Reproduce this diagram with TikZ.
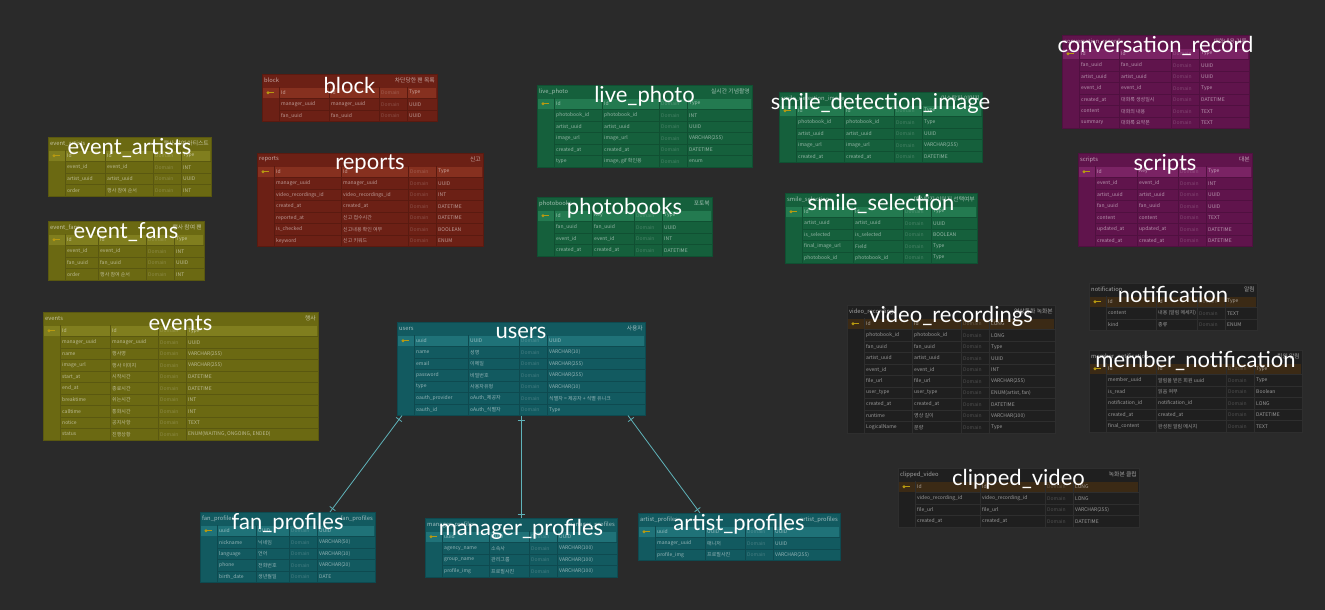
\documentclass[tikz,border=0pt]{standalone}
\usepackage{fontspec}
\setmainfont{Lato}
\newfontfamily\krfont{Noto Sans CJK KR}
\newfontfamily\titlefont{Lato}
\usetikzlibrary{arrows.meta, positioning, decorations.markings}

\definecolor{bgdark}{HTML}{2A2A2A}
\definecolor{keyyellow}{HTML}{B89A10}
\definecolor{linkteal}{HTML}{5FB3BA}
\definecolor{olivebody}{HTML}{6B6912}\definecolor{olivehead}{HTML}{807E1E}
\definecolor{olivebar}{HTML}{6B6912}\definecolor{oliveline}{HTML}{5A5810}
\definecolor{redbody}{HTML}{6C2015}\definecolor{redhead}{HTML}{86301F}
\definecolor{redbar}{HTML}{6C2015}\definecolor{redline}{HTML}{5A1A10}
\definecolor{greenbody}{HTML}{15603C}\definecolor{greenhead}{HTML}{237A50}
\definecolor{greenbar}{HTML}{15603C}\definecolor{greenline}{HTML}{105032}
\definecolor{purplebody}{HTML}{60144C}\definecolor{purplehead}{HTML}{7A2364}
\definecolor{purplebar}{HTML}{60144C}\definecolor{purpleline}{HTML}{501040}
\definecolor{tealbody}{HTML}{125A60}\definecolor{tealhead}{HTML}{1F7278}
\definecolor{tealbar}{HTML}{125A60}\definecolor{tealline}{HTML}{0E4A50}
\definecolor{darkbody}{HTML}{1F1F1F}\definecolor{darkhead}{HTML}{3B2A15}
\definecolor{darkbar}{HTML}{1F1F1F}\definecolor{darkline}{HTML}{2E2E2E}

\tikzset{
	cell/.style={anchor=west, inner sep=0pt, xshift=2pt, text=white, text opacity=0.55,
		font=\krfont\fontsize{5}{6}\selectfont},
	dimcell/.style={text opacity=0.22},
	tabcap/.style={inner sep=0pt, text=white, text opacity=0.6,
		font=\krfont\fontsize{5.8}{7}\selectfont},
	tabframe/.style={anchor=north west, inner sep=0pt, outer sep=0pt, line width=0.6pt},
	bigtitle/.style={inner sep=0pt, text=white, font=\titlefont\fontsize{22}{25}\selectfont},
	link/.style={draw=linkteal, line width=0.8pt, postaction={decorate},
		decoration={markings,
			mark=at position 5pt with {\draw[linkteal, line width=0.8pt] (0,-3.5pt) -- (0,3.5pt);},
			mark=at position -4pt with {\draw[linkteal, line width=0.8pt] (0,-3.5pt) -- (0,3.5pt);}}}
}

% #1 name, #2 top left, #3 colour scheme, #4 comment, #5-#7 column widths, #8 rows
\newcommand\erdtable[8]{%
	\begin{scope}[shift={#2}]
	\pgfmathsetmacro\erdB{17+#5}
	\pgfmathsetmacro\erdC{17+#5+#6}
	\pgfmathsetmacro\erdD{17+#5+#6+28}
	\pgfmathsetmacro\erdE{17+#5+#6+28+#7}
	\fill[#3bar] (0,0) rectangle (\erdE,13);
	\node[tabcap, anchor=west] (#1-cap) at (2,6.5) {#1};
	\node[tabcap, anchor=east] (#1-note) at (\erdE-2,6.5) {#4};
	\foreach \la/\ph/\ty [count=\i] in {#8} {
		\pgfmathsetmacro\ya{13+11.5*(\i-1)}
		\pgfmathsetmacro\yb{\ya+11.5}
		\pgfmathsetmacro\ym{\ya+5.75}
		\fill[#3body] (0,\ya) rectangle (\erdE,\yb);
		\ifnum\i=1
			\fill[#3head] (1,\ya+1) rectangle (\erdE-1,\yb-0.5);
			\fill[keyyellow] (6,\ym) circle (1.6);
			\draw[keyyellow, line width=0.8pt] (6,\ym) -- (12,\ym);
		\else
			\draw[#3line] (17,\ya) -- (\erdE,\ya);
		\fi
		\draw[#3line] (17,\ya) -- (17,\yb) (\erdB,\ya) -- (\erdB,\yb)
			(\erdC,\ya) -- (\erdC,\yb) (\erdD,\ya) -- (\erdD,\yb);
		\node[cell] (#1-r\i-l) at (17,\ym) {\la};
		\node[cell] (#1-r\i-p) at (\erdB,\ym) {\ph};
		\node[cell, dimcell] (#1-r\i-d) at (\erdC,\ym) {Domain};
		\node[cell] (#1-r\i-t) at (\erdD,\ym) {\ty};
		\xdef\erdrows{\i}
	}
	\pgfmathsetmacro\erdH{13+11.5*\erdrows}
	\node[tabframe, draw=#3line, minimum width=\erdE pt, minimum height=\erdH pt] (#1) at (0,0) {};
	\node[bigtitle] (#1-title) at (\erdE/2,11) {#1};
	\end{scope}}

\begin{document}
\catcode`\_=12
\begin{tikzpicture}[x=1pt, y=-1pt]

\fill[bgdark] (0,0) rectangle (1325,610);
\useasboundingbox (0,0) rectangle (1325,610);

\erdtable{event_artists}{(48,137)}{olive}{행사 참여 아티스트}{40}{48}{30}{
	Id/Id/Type, event_id/event_id/INT, artist_uuid/artist_uuid/UUID, order/행사 참여 순서/INT}
\erdtable{event_fans}{(48,221)}{olive}{행사 참여 팬}{33}{48}{30}{
	Id/Id/Type, event_id/event_id/INT, fan_uuid/fan_uuid/UUID, order/행사 참여 순서/INT}
\erdtable{events}{(43,312)}{olive}{행사}{50}{48}{132}{
	Id/Id/Type, manager_uuid/manager_uuid/UUID, name/행사명/VARCHAR(255),
	image_url/행사 이미지/VARCHAR(255), start_at/시작시간/DATETIME, end_at/종료시간/DATETIME,
	breaktime/쉬는시간/INT, calltime/통화시간/INT, notice/공지사항/TEXT,
	status/진행상황/{ENUM(WAITING, ONGOING, ENDED)}}

\erdtable{block}{(262,74)}{red}{차단당한 팬 목록}{50}{50}{30}{
	Id/Id/Type, manager_uuid/manager_uuid/UUID, fan_uuid/fan_uuid/UUID}
\erdtable{reports}{(257,153)}{red}{신고}{67}{67}{47}{
	Id/Id/Type, manager_uuid/manager_uuid/UUID, video_recordings_id/video_recordings_id/INT,
	created_at/created_at/DATETIME, reported_at/신고 접수시간/DATETIME,
	is_checked/신고내용 확인 여부/BOOLEAN, keyword/신고 키워드/ENUM}

\erdtable{live_photo}{(537,85)}{green}{실시간 기념촬영}{48}{57}{65}{
	Id/Id/Type, photobook_id/photobook_id/INT, artist_uuid/artist_uuid/UUID,
	image_url/image_url/VARCHAR(255), created_at/created_at/DATETIME, type/{image, gif 확인용}/enum}
\erdtable{photobooks}{(537,197)}{green}{포토북}{38}{42}{50}{
	Id/Key/Type, fan_uuid/fan_uuid/UUID, event_id/event_id/INT, created_at/created_at/DATETIME}
\erdtable{smile_detection_image}{(779,92)}{green}{미소탐지 이미지}{48}{50}{60}{
	Id/Id/Type, photobook_id/photobook_id/Type, artist_uuid/artist_uuid/UUID,
	image_url/image_url/VARCHAR(255), created_at/created_at/DATETIME}
\erdtable{smile_selection}{(785,193)}{green}{미소탐지 이미지 선택여부}{51}{50}{46}{
	Id/Id/Type, artist_uuid/artist_uuid/UUID, is_selected/is_selected/BOOLEAN,
	final_image_url/Field/Type, photobook_id/photobook_id/Type}

\erdtable{conversation_record}{(1062,35)}{purple}{대화내용 기록}{40}{52}{50}{
	Id/Id/Type, fan_uuid/fan_uuid/UUID, artist_uuid/artist_uuid/UUID, event_id/event_id/Type,
	created_at/대화록 생성일시/DATETIME, content/대화의 내용/TEXT, summary/대화록 요약본/TEXT}
\erdtable{scripts}{(1078,153)}{purple}{대본}{42}{41}{46}{
	Id/Key/Type, event_id/event_id/INT, artist_uuid/artist_uuid/UUID, fan_uuid/fan_uuid/UUID,
	content/content/TEXT, updated_at/updated_at/DATETIME, created_at/created_at/DATETIME}

\erdtable{users}{(397,322)}{teal}{사용자}{54}{51}{98}{
	uuid/UUID/UUID, name/성명/VARCHAR(10), email/이메일/VARCHAR(255),
	password/비밀번호/VARCHAR(255), type/사용자유형/VARCHAR(10),
	oauth_provider/oAuth_제공자/식별자 = 제공자 + 식별 유니크, oauth_id/oAuth_식별자/Type}
\erdtable{fan_profiles}{(200,512)}{teal}{fan_profiles}{39}{33}{58}{
	uuid/UUID/UUID, nickname/닉네임/VARCHAR(50), language/언어/VARCHAR(10),
	phone/전화번호/VARCHAR(20), birth_date/생년월일/DATE}
\erdtable{manager_profiles}{(425,518)}{teal}{manager_profiles}{47}{40}{60}{
	uuid/UUID/UUID, agency_name/소속사/VARCHAR(100), group_name/관리그룹/VARCHAR(100),
	profile_img/프로필사진/VARCHAR(100)}
\erdtable{artist_profiles}{(638,513)}{teal}{artist_profiles}{50}{40}{67}{
	uuid/UUID/UUID, manager_uuid/매니저/UUID, profile_img/프로필사진/VARCHAR(255)}

\erdtable{notification}{(1089,283)}{dark}{알림}{50}{41}{32}{
	Id/Id/Type, content/내용 (알림 메세지)/TEXT, kind/종류/ENUM}
\erdtable{video_recordings}{(847,305)}{dark}{영상통화 녹화본}{48}{49}{66}{
	Id/Id/LONG, photobook_id/photobook_id/LONG, fan_uuid/fan_uuid/Type,
	artist_uuid/artist_uuid/UUID, event_id/event_id/INT, file_url/file_url/VARCHAR(255),
	user_type/user_type/{ENUM(artist, fan)}, created_at/created_at/DATETIME,
	runtime/영상 길이/VARCHAR(100), LogicalName/분량/Type}
\erdtable{member_notification}{(1089,350)}{dark}{회원 알림}{50}{70}{48}{
	Id/Id/Type, member_uuid/알림을 받은 회원 uuid/Type, is_read/읽음 여부/Boolean,
	notification_id/notification_id/LONG, created_at/created_at/DATETIME,
	final_content/완성된 알림 메시지/TEXT}
\erdtable{clipped_video}{(898,468)}{dark}{녹화본 클립}{65}{65}{66}{
	Id/Id/LONG, video_recording_id/video_recording_id/LONG, file_url/file_url/VARCHAR(255),
	created_at/created_at/DATETIME}

\draw[link] ([xshift=5pt]users.south west) -- ([xshift=130pt]fan_profiles.north west);
\draw[link] ([xshift=124pt]users.south west) -- ([xshift=96pt]manager_profiles.north west);
\draw[link] ([xshift=231pt]users.south west) -- ([xshift=62pt]artist_profiles.north west);

\end{tikzpicture}
\end{document}
